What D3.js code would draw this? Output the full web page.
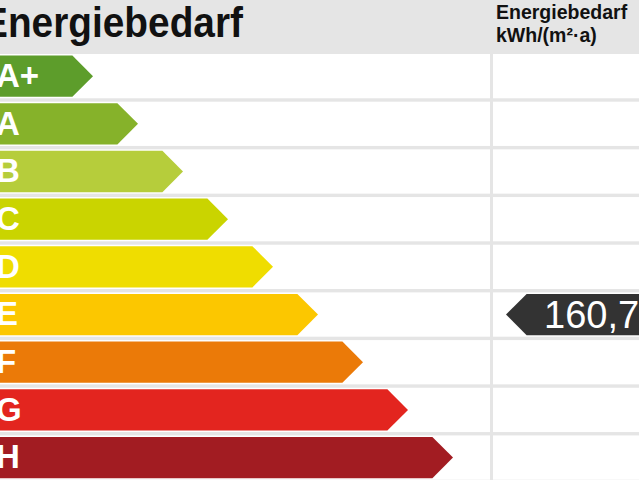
<!DOCTYPE html>
<html>
<head>
<meta charset="utf-8">
<script src="https://cdn.jsdelivr.net/npm/d3@7"></script>
<style>
  html, body { margin: 0; padding: 0; background: #fff; }
  svg { display: block; font-family: "Liberation Sans", Arial, sans-serif; }
</style>
</head>
<body>
<div id="chart"></div>
<script>
// Effizienzklassen und Farben
const classes = ["A+", "A", "B", "C", "D", "E", "F", "G", "H"];
const classColors = ["#5d9d2b", "#86b22a", "#b6cd3b", "#cad400", "#efdd00", "#fcc700", "#eb7a08", "#e3251f", "#a21c22"];

// Kennwert des Gebäudes
const valueClass = ["E"];
const valueData = [160.7];

const title = "Energiebedarf";
const unitLines = ["Energiebedarf", "kWh/(m²·a)"];

const width = 639, height = 480;
const headerH = 54;
const step = 47.68, gap = 3.4;
const colX = 490; // Trennlinie zur Wertespalte

const svg = d3.select("#chart")
  .append("svg")
  .attr("width", width)
  .attr("height", height);

// Hintergrund (Tabellenraster)
svg.append("rect")
  .attr("width", width)
  .attr("height", height)
  .attr("fill", "#e5e5e5");

const y = d3.scaleBand()
  .domain(classes)
  .range([headerH, headerH + classes.length * step - gap])
  .paddingInner(gap / step)
  .paddingOuter(0);

// Spitzen der Pfeile
const tip = d3.scalePoint()
  .domain(classes)
  .range([93, 453]);

const color = d3.scaleOrdinal()
  .domain(classes)
  .range(classColors);

// weiße Zellen
const rows = svg.append("g");
rows.selectAll("rect.left")
  .data(classes)
  .enter()
  .append("rect")
  .attr("class", "left")
  .attr("x", 0)
  .attr("y", d => y(d))
  .attr("width", colX)
  .attr("height", y.bandwidth())
  .attr("fill", "#fff");

rows.selectAll("rect.right")
  .data(classes)
  .enter()
  .append("rect")
  .attr("class", "right")
  .attr("x", colX + 3)
  .attr("y", d => y(d))
  .attr("width", width - colX - 3)
  .attr("height", y.bandwidth())
  .attr("fill", "#fff");

// Pfeile
const inset = 1.5;
function arrow(d) {
  const t = y(d) + inset;
  const b = y(d) + y.bandwidth() - inset;
  const m = (t + b) / 2;
  const h = (b - t) / 2;
  const x = tip(d);
  return `M-10,${t}L${x - h},${t}L${x},${m}L${x - h},${b}L-10,${b}Z`;
}

svg.append("g")
  .selectAll("path")
  .data(classes)
  .enter()
  .append("path")
  .attr("d", arrow)
  .attr("fill", d => color(d));

svg.append("g")
  .selectAll("text")
  .data(classes)
  .enter()
  .append("text")
  .attr("x", -4)
  .attr("y", d => y(d) + 33)
  .attr("fill", "#fff")
  .attr("font-size", 33)
  .attr("font-weight", "bold")
  .text(d => d);

// Kopfzeile
svg.append("text")
  .attr("x", -18)
  .attr("y", 37)
  .attr("font-size", 42)
  .attr("font-weight", "bold")
  .attr("fill", "#111")
  .attr("textLength", 261)
  .attr("lengthAdjust", "spacingAndGlyphs")
  .text(title);

svg.append("g")
  .selectAll("text")
  .data(unitLines)
  .enter()
  .append("text")
  .attr("x", 496)
  .attr("y", (d, i) => 19 + i * 23)
  .attr("font-size", 19.5)
  .attr("font-weight", "bold")
  .attr("fill", "#111")
  .text(d => d);

// Markierung mit Wert
const de = d3.formatLocale({ decimal: ",", thousands: ".", grouping: [3], currency: ["", " €"] });
const fmt = de.format(".1f");

const marker = svg.append("g")
  .selectAll("g")
  .data(valueData)
  .enter()
  .append("g");

marker.append("path")
  .attr("d", (d, i) => {
    const c = valueClass[i];
    const t = y(c) + inset;
    const b = y(c) + y.bandwidth() - inset;
    const m = (t + b) / 2;
    const h = (b - t) / 2;
    const x = 506;
    return `M${x},${m}L${x + h},${t}L${width + 10},${t}L${width + 10},${b}L${x + h},${b}Z`;
  })
  .attr("fill", "#333");

marker.append("text")
  .attr("x", 544)
  .attr("y", (d, i) => y(valueClass[i]) + 36)
  .attr("font-size", 38)
  .attr("fill", "#fff")
  .text(d => fmt(d));
</script>
</body>
</html>
